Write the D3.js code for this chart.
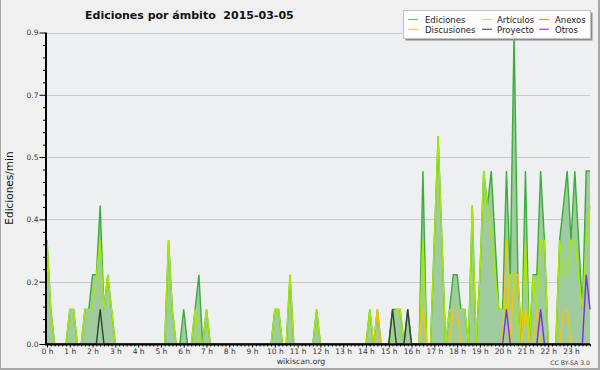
<!DOCTYPE html>
<html lang="es">
<head>
<meta charset="UTF-8">
<title>Ediciones por ámbito</title>
<script src="https://d3js.org/d3.v7.min.js"></script>
<style>
  body { margin: 0; background: #f0f0f0; }
  svg { display: block; font-family: "DejaVu Sans", sans-serif; }
  .axis path, .axis line { stroke: #000; }
</style>
</head>
<body>
<div id="chart"></div>
<script>
// ediciones por minuto, un valor cada 10 minutos (6 por hora, 0 h .. 23:50)
const ediciones = [
  0.3,0.1,0,0,0,0,  0.1,0.1,0,0,0.1,0.1,  0.2,0.2,0.4,0.1,0.2,0.1,  0,0,0,0,0,0,
  0,0,0,0,0,0,  0,0,0.3,0.1,0,0,  0.1,0,0,0.1,0.2,0,  0.1,0,0,0,0,0,
  0,0,0,0,0,0,  0,0,0,0,0,0,  0.1,0.1,0,0,0.2,0,  0,0,0,0,0,0.1,
  0,0,0,0,0,0,  0,0,0,0,0,0,  0,0.1,0,0.1,0,0,  0,0.1,0.1,0.1,0,0.1,
  0,0,0,0.5,0,0,  0.3,0.6,0.3,0,0.1,0.2,  0.2,0.1,0.1,0,0.4,0,  0.2,0.5,0.4,0.5,0.3,0.1,
  0.1,0.5,0.2,0.9,0.2,0,  0.5,0,0.2,0.2,0.5,0.3,  0,0,0,0.3,0.4,0.5,  0.3,0.5,0.3,0.1,0.5,0.5
];
const articulos = [
  0.3,0.1,0,0,0,0,  0.1,0.1,0,0,0.1,0.1,  0.1,0.2,0.3,0.1,0.2,0.1,  0,0,0,0,0,0,
  0,0,0,0,0,0,  0,0,0.3,0.1,0,0,  0,0,0,0.1,0,0,  0.1,0,0,0,0,0,
  0,0,0,0,0,0,  0,0,0,0,0,0,  0.1,0.1,0,0,0.2,0,  0,0,0,0,0,0.1,
  0,0,0,0,0,0,  0,0,0,0,0,0,  0,0.1,0,0,0,0,  0,0,0.1,0.1,0,0,
  0,0,0,0.3,0,0,  0.3,0.6,0.3,0,0.1,0.1,  0.1,0.1,0.1,0,0.4,0,  0.2,0.5,0.4,0.3,0.2,0.1,
  0.1,0.1,0.2,0.2,0,0,  0.3,0,0.2,0.1,0.3,0.3,  0,0,0,0.3,0.2,0.2,  0.3,0.3,0.2,0.1,0.3,0.4
];
const anexos = [
  0,0,0,0,0,0,  0,0,0,0,0,0,  0,0,0,0,0,0,  0,0,0,0,0,0,
  0,0,0,0,0,0,  0,0,0,0,0,0,  0,0,0,0,0,0,  0,0,0,0,0,0,
  0,0,0,0,0,0,  0,0,0,0,0,0,  0,0,0,0,0,0,  0,0,0,0,0,0,
  0,0,0,0,0,0,  0,0,0,0,0,0,  0,0,0,0,0,0,  0,0,0,0,0,0,
  0,0,0,0,0,0,  0,0,0,0,0,0,  0,0,0,0,0,0,  0,0,0,0,0,0,
  0,0,0,0,0,0,  0,0,0,0,0,0,  0,0,0,0,0,0,  0,0,0,0,0,0
];
const discusiones = [
  0,0,0,0,0,0,  0,0,0,0,0,0,  0,0,0,0,0,0,  0,0,0,0,0,0,
  0,0,0,0,0,0,  0,0,0,0,0,0,  0,0,0,0,0,0,  0,0,0,0,0,0,
  0,0,0,0,0,0,  0,0,0,0,0,0,  0,0,0,0,0,0,  0,0,0,0,0,0,
  0,0,0,0,0,0,  0,0,0,0,0,0,  0,0,0,0.1,0,0,  0,0,0,0,0,0,
  0,0,0,0.1,0,0,  0,0,0,0,0,0.1,  0.1,0,0,0,0,0,  0,0,0,0,0,0,
  0,0.3,0,0.2,0.2,0,  0.1,0,0,0.1,0,0,  0,0,0,0,0.1,0.1,  0,0,0,0,0,0
];
const proyecto = [
  0,0,0,0,0,0,  0,0,0,0,0,0,  0,0,0.1,0,0,0,  0,0,0,0,0,0,
  0,0,0,0,0,0,  0,0,0,0,0,0,  0,0,0,0,0,0,  0,0,0,0,0,0,
  0,0,0,0,0,0,  0,0,0,0,0,0,  0,0,0,0,0,0,  0,0,0,0,0,0,
  0,0,0,0,0,0,  0,0,0,0,0,0,  0,0,0,0,0,0,  0,0.1,0,0,0,0.1,
  0,0,0,0,0,0,  0,0,0,0,0,0,  0,0,0,0,0,0,  0,0,0,0,0,0,
  0,0,0,0,0,0,  0,0,0,0,0,0,  0,0,0,0,0,0,  0,0,0,0,0,0
];
const otros = [
  0,0,0,0,0,0,  0,0,0,0,0,0,  0,0,0,0,0,0,  0,0,0,0,0,0,
  0,0,0,0,0,0,  0,0,0,0,0,0,  0,0,0,0,0,0,  0,0,0,0,0,0,
  0,0,0,0,0,0,  0,0,0,0,0,0,  0,0,0,0,0,0,  0,0,0,0,0,0,
  0,0,0,0,0,0,  0,0,0,0,0,0,  0,0,0,0,0,0,  0,0,0,0,0,0,
  0,0,0,0,0,0,  0,0,0,0,0,0,  0,0,0,0,0,0,  0,0,0,0,0,0,
  0,0.1,0,0,0,0,  0,0,0,0,0.1,0,  0,0,0,0,0,0,  0,0,0,0,0.2,0.1
];

const hourTicks = [0,1,2,3,4,5,6,7,8,9,10,11,12,13,14,15,16,17,18,19,20,21,22,23];
const yTicks = [0, 0.18, 0.36, 0.54, 0.72, 0.9];

const width = 600, height = 370;
const plotLeft = 47, plotRight = 590, plotTop = 32.5, plotBottom = 344;

const svg = d3.select("#chart").append("svg")
  .attr("width", width).attr("height", height);

svg.append("rect").attr("width", width).attr("height", height).attr("fill", "#f0f0f0");
// marco gris (izquierda, derecha, abajo)
svg.append("rect").attr("x", 0).attr("y", 0).attr("width", 1).attr("height", height).attr("fill", "#a8a8a8");
svg.append("rect").attr("x", 598).attr("y", 0).attr("width", 2).attr("height", height).attr("fill", "#a8a8a8");
svg.append("rect").attr("x", 0).attr("y", 368).attr("width", width).attr("height", 2).attr("fill", "#a8a8a8");

const x = d3.scaleLinear().domain([0, 143 / 6]).range([plotLeft, plotRight]);
const y = d3.scaleLinear().domain([0, 0.9]).range([plotBottom, plotTop]);

svg.append("rect")
  .attr("x", plotLeft).attr("y", plotTop)
  .attr("width", plotRight - plotLeft).attr("height", plotBottom - plotTop)
  .attr("fill", "#eeeff1");

// líneas de la cuadrícula
svg.append("g").selectAll("line")
  .data(yTicks.slice(1))
  .join("line")
  .attr("x1", plotLeft).attr("x2", plotRight)
  .attr("y1", d => Math.round(y(d)) + 0.5).attr("y2", d => Math.round(y(d)) + 0.5)
  .attr("stroke", "#cacaca");

const t = (d, i) => x(i / 6);

svg.append("path")
  .datum(ediciones)
  .attr("fill", "#9fcb9f")
  .attr("d", d3.area().x(t).y0(y(0)).y1(d => y(d)));

const series = [
  { name: "Ediciones", values: ediciones, color: "#3aad3a" },
  { name: "Artículos", values: articulos, color: "#a6ea00" },
  { name: "Anexos", values: anexos, color: "#ff7a3c" },
  { name: "Discusiones", values: discusiones, color: "#f7c600" },
  { name: "Otros", values: otros, color: "#7f2cf0" },
  { name: "Proyecto", values: proyecto, color: "#334433" }
];

const line = d3.line().x(t).y(d => y(d));
svg.append("g").selectAll("path")
  .data(series)
  .join("path")
  .attr("fill", "none")
  .attr("stroke", d => d.color)
  .attr("stroke-width", 1.4)
  .attr("d", d => line(d.values));

// eje Y
const minorY = d3.range(0, 0.9001, 0.036).filter(v => !yTicks.some(m => Math.abs(m - v) < 1e-6));
const yAxis = svg.append("g").attr("class", "axis").attr("transform", "translate(45.5,0)");
yAxis.call(d3.axisLeft(y).tickValues(yTicks).tickFormat(d3.format(".1f"))
  .tickSize(6).tickPadding(1).tickSizeOuter(0));
yAxis.append("g").call(d3.axisLeft(y).tickValues(minorY).tickFormat("").tickSize(2.5))
  .select(".domain").remove();
yAxis.select(".domain").attr("stroke-width", 2).attr("d", `M0.5,${plotBottom + 1}V${plotTop}`);
yAxis.selectAll("text").attr("font-size", 7.5).attr("fill", "#333").attr("font-family", "DejaVu Sans");

// eje X
const minorX = d3.range(0, 144).map(i => i / 6).filter(v => v % 1 !== 0);
const xAxis = svg.append("g").attr("class", "axis").attr("transform", `translate(0,${plotBottom})`);
xAxis.call(d3.axisBottom(x).tickValues(hourTicks).tickFormat(d => d + " h")
  .tickSize(3.5).tickPadding(1).tickSizeOuter(0));
xAxis.append("g").call(d3.axisBottom(x).tickValues(minorX).tickFormat("").tickSize(2.5))
  .select(".domain").remove();
xAxis.select(".domain").attr("stroke-width", 2).attr("d", `M${plotLeft - 2},0.5H${plotRight}`);
xAxis.selectAll("text").attr("font-size", 7.5).attr("fill", "#333").attr("font-family", "DejaVu Sans");

// títulos
svg.append("text")
  .attr("x", 85).attr("y", 18.5)
  .attr("font-size", 11).attr("font-weight", "bold").attr("fill", "#111")
  .style("white-space", "pre")
  .text("Ediciones por ámbito  2015-03-05");

svg.append("text")
  .attr("transform", "translate(13,188) rotate(-90)")
  .attr("text-anchor", "middle")
  .attr("font-size", 10.5).attr("fill", "#111")
  .text("Ediciones/min");

svg.append("text")
  .attr("x", 301).attr("y", 363.5)
  .attr("text-anchor", "middle")
  .attr("font-size", 7.8).attr("fill", "#333")
  .text("wikiscan.org");

svg.append("text")
  .attr("x", 590).attr("y", 364.5)
  .attr("text-anchor", "end")
  .attr("font-size", 6.2).attr("fill", "#444")
  .text("CC BY-SA 3.0");

// leyenda
const legendItems = [
  { name: "Ediciones", color: "#66cc66", col: 0, row: 0 },
  { name: "Discusiones", color: "#ffcc33", col: 0, row: 1 },
  { name: "Artículos", color: "#ccf000", col: 1, row: 0 },
  { name: "Proyecto", color: "#555555", col: 1, row: 1 },
  { name: "Anexos", color: "#ff8844", col: 2, row: 0 },
  { name: "Otros", color: "#9944ff", col: 2, row: 1 }
];
const colX = [408, 482, 539];
const legend = svg.append("g");
legend.append("rect").attr("x", 405.5).attr("y", 12.5).attr("width", 187).attr("height", 28).attr("fill", "#8a8a8a");
legend.append("rect").attr("x", 403.5).attr("y", 10.5).attr("width", 187).attr("height", 28)
  .attr("fill", "#fdfdfd").attr("stroke", "#c4c4c4");
const li = legend.selectAll("g.item").data(legendItems).join("g")
  .attr("transform", d => `translate(${colX[d.col]},${19.5 + d.row * 9.8})`);
li.append("line").attr("x1", 0).attr("x2", 10).attr("stroke", d => d.color).attr("stroke-width", 1.2);
li.append("text").attr("x", d => d.col === 2 ? 16 : (d.col === 1 ? 15 : 17)).attr("y", 3.5)
  .attr("font-size", 8.5).attr("fill", "#222")
  .text(d => d.name);
</script>
</body>
</html>
